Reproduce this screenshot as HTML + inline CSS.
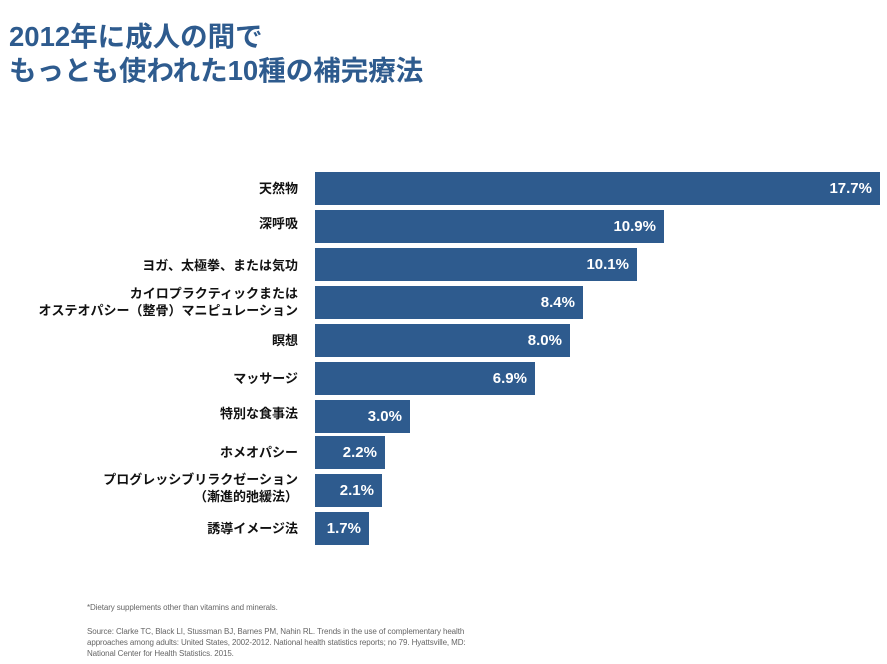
<!DOCTYPE html>
<html><head><meta charset="utf-8"><style>
body{margin:0;width:887px;height:664px;background:#fff;position:relative;overflow:hidden;font-family:"Liberation Sans","Noto Sans CJK JP",sans-serif}
.t{position:absolute;left:9px;color:#2e5b8e;font-weight:bold;font-size:27.5px;line-height:34px;font-family:"Liberation Sans","Noto Sans CJK JP",sans-serif}
.bar{position:absolute;left:315px;height:33px;background:#2e5b8e;color:#fff;font-weight:bold;font-size:15px;text-align:right;box-sizing:border-box;padding-right:8px;line-height:33px}
.lab{position:absolute;right:589px;font-size:13px;color:#111;text-align:right;line-height:17px;font-weight:bold;font-family:"Liberation Sans","Noto Sans CJK JP",sans-serif}
.f{position:absolute;left:87px;font-size:8px;color:#666;line-height:11px;letter-spacing:-0.1px}
</style></head><body>
<div class="t" style="top:20px">2012年に成人の間で</div>
<div class="t" style="top:54px">もっとも使われた10種の補完療法</div>

<div class="bar" style="top:172px;width:565px">17.7%</div>
<div class="bar" style="top:210px;width:349px">10.9%</div>
<div class="bar" style="top:248px;width:322px">10.1%</div>
<div class="bar" style="top:286px;width:268px">8.4%</div>
<div class="bar" style="top:324px;width:255px">8.0%</div>
<div class="bar" style="top:362px;width:220px">6.9%</div>
<div class="bar" style="top:400px;width:95px">3.0%</div>
<div class="bar" style="top:436px;width:70px">2.2%</div>
<div class="bar" style="top:474px;width:67px">2.1%</div>
<div class="bar" style="top:512px;width:54px">1.7%</div>

<div class="lab" style="top:180px">天然物</div>
<div class="lab" style="top:215px">深呼吸</div>
<div class="lab" style="top:257px">ヨガ、太極拳、または気功</div>
<div class="lab" style="top:285px">カイロプラクティックまたは<br>オステオパシー（整骨）マニピュレーション</div>
<div class="lab" style="top:332px">瞑想</div>
<div class="lab" style="top:370px">マッサージ</div>
<div class="lab" style="top:405px">特別な食事法</div>
<div class="lab" style="top:444px">ホメオパシー</div>
<div class="lab" style="top:471px">プログレッシブリラクゼーション<br>（漸進的弛緩法）</div>
<div class="lab" style="top:520px">誘導イメージ法</div>

<div class="f" style="top:602px">*Dietary supplements other than vitamins and minerals.</div>
<div class="f" style="top:626px">Source: Clarke TC, Black LI, Stussman BJ, Barnes PM, Nahin RL. Trends in the use of complementary health<br>approaches among adults: United States, 2002-2012. National health statistics reports; no 79. Hyattsville, MD:<br>National Center for Health Statistics. 2015.</div>
</body></html>
